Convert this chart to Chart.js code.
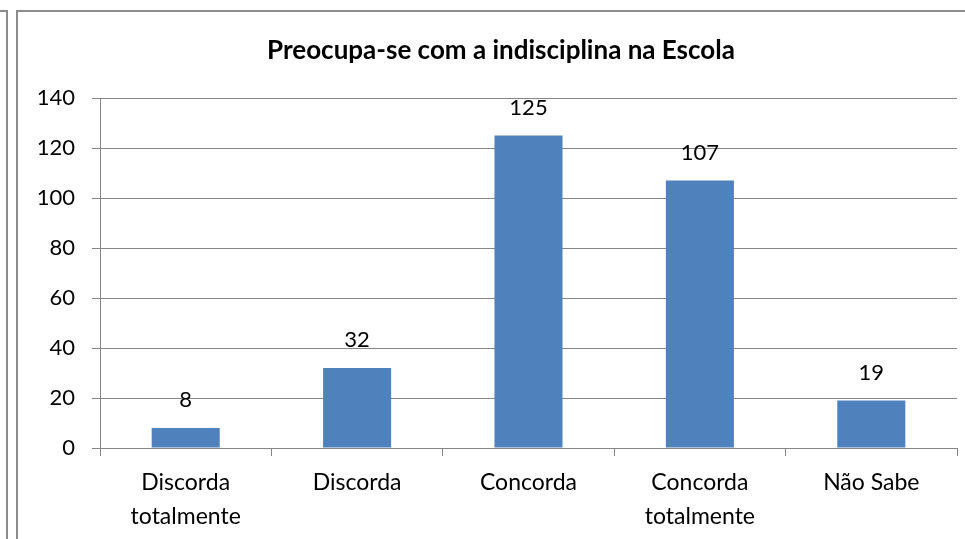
<!DOCTYPE html>
<html>
<head>
<meta charset="utf-8">
<script src="https://cdn.jsdelivr.net/npm/chart.js@4"></script>
<style>
  html, body { margin: 0; padding: 0; background: #fff; }
  body { width: 965px; height: 539px; position: relative; overflow: hidden; }
  .outer { position: absolute; left: -2px; top: 10px; width: 8px; height: 600px; border: 2px solid #8c8c8c; border-left: none; }
  .frame { position: absolute; left: 16px; top: 10px; width: 960px; height: 600px; border: 2px solid #8c8c8c; box-sizing: border-box; }
  #wrap { position: absolute; left: 0; top: 0; width: 965px; height: 539px; }
</style>
</head>
<body>
<div class="outer"></div>
<div class="frame"></div>
<div id="wrap"><canvas id="myChart"></canvas></div>
<script>
// Dados
const chartTitle = "Preocupa-se com a indisciplina na Escola";
const categories = [["Discorda", "totalmente"], "Discorda", "Concorda", ["Concorda", "totalmente"], "Não Sabe"];
const values = [8, 32, 125, 107, 19];
const yTicks = { min: 0, max: 140, step: 20 };

const fontFamily = "Lato, 'Open Sans', sans-serif";
const gridColor = '#868686';

// Rótulos sobre as barras + título
const labelsPlugin = {
  id: 'barLabels',
  afterDatasetsDraw(chart) {
    const { ctx } = chart;
    const meta = chart.getDatasetMeta(0);
    ctx.save();
    ctx.font = `22px ${fontFamily}`;
    ctx.fillStyle = '#000';
    ctx.textAlign = 'center';
    ctx.textBaseline = 'middle';
    meta.data.forEach((bar, i) => {
      ctx.fillText(String(values[i]), bar.x, bar.y - 28);
    });
    ctx.font = `bold 26px ${fontFamily}`;
    ctx.fillText(chartTitle, 501, 51);
    ctx.restore();
  }
};

new Chart(document.querySelector('#myChart').getContext('2d'), {
  type: 'bar',
  data: {
    labels: categories,
    datasets: [{
      data: values,
      backgroundColor: '#4F81BD',
      borderWidth: 0,
      barPercentage: 0.397,
      categoryPercentage: 1,
    }]
  },
  options: {
    responsive: true,
    maintainAspectRatio: false,
    animation: false,
    layout: { padding: { top: 98, right: 8, left: 0, bottom: 0 } },
    plugins: {
      legend: { display: false },
      title: { display: false },
      tooltip: { enabled: false }
    },
    scales: {
      x: {
        afterFit: s => { s.height = 91; },
        grid: {
          offset: true,
          drawOnChartArea: false,
          drawTicks: true,
          tickLength: 8,
          color: gridColor,
        },
        border: { color: gridColor, width: 1 },
        ticks: {
          color: '#000',
          padding: 10,
          maxRotation: 0,
          autoSkip: false,
          font: { family: fontFamily, size: 23, lineHeight: '34px' }
        }
      },
      y: {
        min: yTicks.min,
        max: yTicks.max,
        afterFit: s => { s.width = 100; },
        grid: { color: gridColor, tickLength: 8 },
        border: { color: gridColor, width: 1 },
        ticks: {
          stepSize: yTicks.step,
          color: '#000',
          padding: 17,
          font: { family: fontFamily, size: 22 }
        }
      }
    }
  },
  plugins: [labelsPlugin]
});
</script>
</body>
</html>
